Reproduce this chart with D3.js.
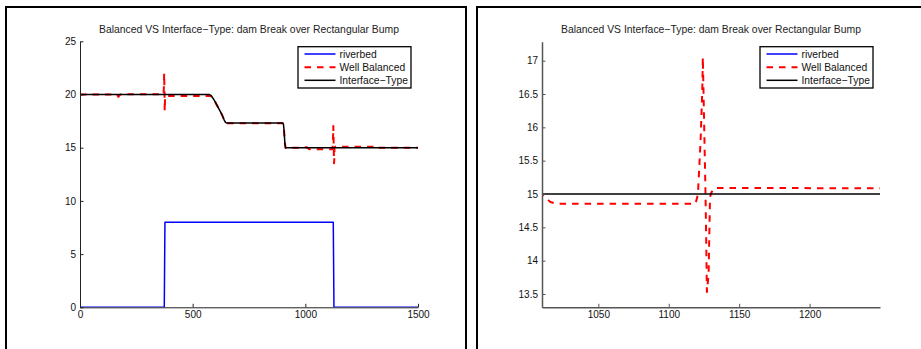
<!DOCTYPE html>
<html>
<head>
<meta charset="utf-8">
<script src="https://cdn.jsdelivr.net/npm/d3@7"></script>
<style>
  html, body { margin: 0; padding: 0; background: #fff; }
  svg { display: block; font-family: "Liberation Sans", Arial, Helvetica, sans-serif; }
</style>
</head>
<body>
<svg id="chart" width="921" height="349"></svg>
<script>
// ---------------- data ----------------
const titleText = "Balanced VS Interface\u2212Type: dam Break over Rectangular Bump";
const seriesNames = ["riverbed", "Well Balanced", "Interface\u2212Type"];

const riverbedX = [0, 374, 377, 1124, 1127, 1500];
const riverbedY = [0, 0, 8, 8, 0, 0];

const interfaceX = [0, 575, 582, 590, 600, 610, 620, 630, 640, 645, 650, 900, 903, 906, 909, 912, 1500];
const interfaceY = [20, 20, 19.9, 19.65, 19.3, 18.9, 18.5, 18.1, 17.6, 17.4, 17.32, 17.32, 17.2, 16.5, 15.5, 15.0, 15.0];

const balancedX = [0, 165, 170, 176, 182, 370, 372, 373.5, 375, 376, 377.5, 380, 575, 582, 590, 600, 610, 620, 630, 640, 645, 650,
  900, 903, 906, 909, 912, 975, 990, 1005, 1010, 1012, 1016, 1020, 1119, 1120.7, 1122.6, 1123.8, 1124.2, 1124.9, 1126.1, 1126.6,
  1127.1, 1128.3, 1129.3, 1130.2, 1132.5, 1305, 1310, 1315, 1500];
const balancedY = [20.0, 20.0, 19.78, 19.95, 20.02, 20.02, 20.5, 22.0, 20.0, 18.45, 19.6, 19.87, 19.87, 19.85, 19.65, 19.3, 18.9, 18.5, 18.1, 17.6, 17.4, 17.3,
  17.3, 17.2, 16.5, 15.5, 14.98, 15.0, 15.05, 15.04, 15.0, 14.95, 14.88, 14.855, 14.855, 14.99, 15.8, 16.55, 17.05, 16.3, 15.0, 14.3,
  13.53, 13.8, 14.95, 15.02, 15.09, 15.085, 14.95, 15.0, 15.0];

const leftXTicks = [0, 500, 1000, 1500];
const leftYTicks = [0, 5, 10, 15, 20, 25];
const rightXTicks = [1050, 1100, 1150, 1200];
const rightYTicks = [13.5, 14, 14.5, 15, 15.5, 16, 16.5, 17];
const leftXDomain = [0, 1500], leftYDomain = [0, 25];
const rightXDomain = [1010, 1250], rightYDomain = [13.3, 17.285];

// ---------------- drawing ----------------
const svg = d3.select("#chart");
const toPts = (xs, ys) => xs.map((x, i) => [x, ys[i]]);
const series = [
  { name: seriesNames[0], pts: toPts(riverbedX, riverbedY), color: "#0000ff", width: 1.5, dash: null },
  { name: seriesNames[1], pts: toPts(balancedX, balancedY), color: "#ff0000", width: 2, dash: "6.5,6" },
  { name: seriesNames[2], pts: toPts(interfaceX, interfaceY), color: "#000000", width: 1.5, dash: null }
];
const drawOrder = [0, 1, 2];

const panels = [
  { frame: [6, 7, 460, 400], plot: { l: 80, r: 418, t: 41.3, b: 307.3 }, xd: leftXDomain, yd: leftYDomain,
    xt: leftXTicks, yt: leftYTicks, axisColor: "#222", axisW: 1, id: "p0" },
  { frame: [477, 7, 460, 400], plot: { l: 542, r: 880, t: 41.7, b: 307.3 }, xd: rightXDomain, yd: rightYDomain,
    xt: rightXTicks, yt: rightYTicks, axisColor: "#555", axisW: 1.5, id: "p1" }
];

const fmt = d => (Math.abs(d % 1) < 1e-9 ? String(d) : d.toFixed(1));

panels.forEach(p => {
  const g = svg.append("g");
  g.append("rect").attr("x", p.frame[0]).attr("y", p.frame[1]).attr("width", p.frame[2]).attr("height", p.frame[3])
    .attr("fill", "none").attr("stroke", "#000").attr("stroke-width", 2);

  const x = d3.scaleLinear().domain(p.xd).range([p.plot.l, p.plot.r]);
  const y = d3.scaleLinear().domain(p.yd).range([p.plot.b, p.plot.t]);

  svg.append("clipPath").attr("id", "clip-" + p.id).append("rect")
    .attr("x", p.plot.l).attr("y", p.plot.t).attr("width", p.plot.r - p.plot.l).attr("height", p.plot.b - p.plot.t);

  const line = d3.line().x(d => x(d[0])).y(d => y(d[1]));
  const lg = g.append("g").attr("clip-path", "url(#clip-" + p.id + ")");
  drawOrder.forEach(i => {
    const s = series[i];
    lg.append("path").attr("d", line(s.pts)).attr("fill", "none").attr("stroke", s.color)
      .attr("stroke-width", s.width).attr("stroke-dasharray", s.dash).attr("stroke-linejoin", "round");
  });

  const xa = g.append("g").attr("transform", `translate(0,${p.plot.b})`)
    .call(d3.axisBottom(x).tickValues(p.xt).tickFormat(fmt).tickSizeInner(-3.5).tickSizeOuter(0).tickPadding(4));
  const ya = g.append("g").attr("transform", `translate(${p.plot.l},0)`)
    .call(d3.axisLeft(y).tickValues(p.yt).tickFormat(fmt).tickSizeInner(-3.5).tickSizeOuter(0).tickPadding(4));
  [xa, ya].forEach(a => {
    a.select(".domain").attr("stroke", p.axisColor).attr("stroke-width", p.axisW);
    a.selectAll(".tick line").attr("stroke", p.axisColor).attr("stroke-width", 1);
    a.selectAll(".tick text").attr("fill", "#111").style("font-size", "10px");
  });

  g.append("text").attr("x", (p.plot.l + p.plot.r) / 2).attr("y", 33).attr("text-anchor", "middle")
    .attr("fill", "#222").style("font-size", "10.4px").text(titleText);

  // legend
  const bw = 113, bh = 41.3;
  const bx = p.plot.r - 7 - bw, by = 46.7;
  const leg = g.append("g");
  leg.append("rect").attr("x", bx).attr("y", by).attr("width", bw).attr("height", bh)
    .attr("fill", "#fff").attr("stroke", "#000").attr("stroke-width", 1.3);
  series.forEach((s, i) => {
    const ry = by + 7.3 + i * 13.15;
    leg.append("line").attr("x1", bx + 6.5).attr("x2", bx + 37.5).attr("y1", ry).attr("y2", ry)
      .attr("stroke", s.color).attr("stroke-width", s.width).attr("stroke-dasharray", s.dash);
    leg.append("text").attr("x", bx + 41.5).attr("y", ry).attr("dy", "0.35em")
      .attr("fill", "#111").style("font-size", "10.3px").text(s.name);
  });
});
</script>
</body>
</html>
